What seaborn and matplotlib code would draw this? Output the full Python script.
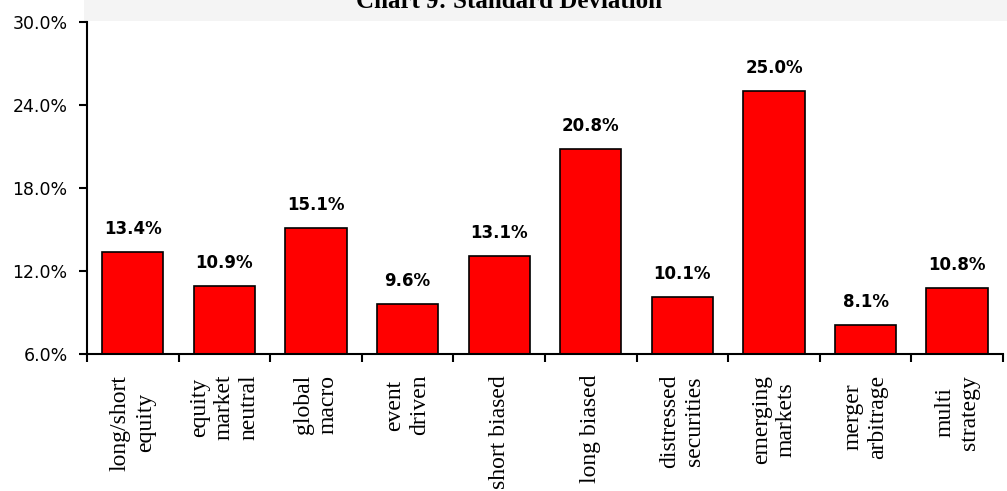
import numpy as np
import pandas as pd
import matplotlib
matplotlib.use("Agg")
import matplotlib.pyplot as plt
import seaborn as sns
from matplotlib import font_manager
from matplotlib.patches import Rectangle

strategies = ["long/short\nequity", "equity\nmarket\nneutral", "global\nmacro", "event\ndriven",
              "short biased", "long biased", "distressed\nsecurities", "emerging\nmarkets",
              "merger\narbitrage", "multi\nstrategy"]
std_dev = [13.4, 10.9, 15.1, 9.6, 13.1, 20.8, 10.1, 25.0, 8.1, 10.8]
y_ticks = [6, 12, 18, 24, 30]

df = pd.DataFrame({"strategy": strategies, "std": std_dev})

sns.set_style("white")
plt.rcParams['font.family'] = ['DejaVu Sans']
plt.rcParams['text.color'] = 'black'
plt.rcParams['xtick.color'] = 'black'
plt.rcParams['ytick.color'] = 'black'

serif = font_manager.FontProperties(family=["Liberation Serif", "DejaVu Serif"], size=17)
serif_bold = font_manager.FontProperties(family=["Liberation Serif", "DejaVu Serif"],
                                         size=18, weight="bold")

fig = plt.figure(figsize=(10.07, 4.91), dpi=100)
# light grey band behind the (cropped) title
fig.patches.append(Rectangle((84 / 1007, 1 - 21 / 491), 1, 21 / 491, transform=fig.transFigure,
                             facecolor="#f4f4f4", edgecolor="none", zorder=0))
ax = fig.add_axes([0.0864, 0.279, 0.9096, 0.676])
ax.set_zorder(2)
ax.patch.set_alpha(0)

sns.barplot(data=df, x="strategy", y="std", color="#ff0000", edgecolor="black",
            linewidth=1.2, width=0.67, saturation=1, ax=ax)

ax.bar_label(ax.containers[0], labels=[f"{v:.1f}%" for v in std_dev], padding=10,
             fontsize=12, fontweight="bold", color="black")

ax.set_ylim(6, 30)
ax.set_xlim(-0.5, len(strategies) - 0.5)
ax.set_yticks(y_ticks)
ax.set_yticklabels([f"{t:.1f}%" for t in y_ticks], fontsize=12.5)
ax.set_xticks(range(len(strategies)))
ax.set_xticklabels(strategies, rotation=90, fontproperties=serif, multialignment="center",
                   linespacing=1.25)
ax.set_xticks(np.arange(-0.5, len(strategies), 1), minor=True)
ax.tick_params(axis="x", which="major", length=0, pad=15)
ax.tick_params(axis="x", which="minor", length=6, width=1.5, direction="out", bottom=True)
ax.tick_params(axis="y", length=6, width=1.5, direction="out", left=True, pad=8)
ax.set_xlabel("")
ax.set_ylabel("")

for s in ["top", "right"]:
    ax.spines[s].set_visible(False)
for s in ["left", "bottom"]:
    ax.spines[s].set_linewidth(1.5)
    ax.spines[s].set_color("black")

fig.text(0.505, 1 - 8 / 491, "Chart 9: Standard Deviation", ha="center", va="baseline",
         fontproperties=serif_bold, zorder=3)

fig.savefig("out.png", dpi=100)
